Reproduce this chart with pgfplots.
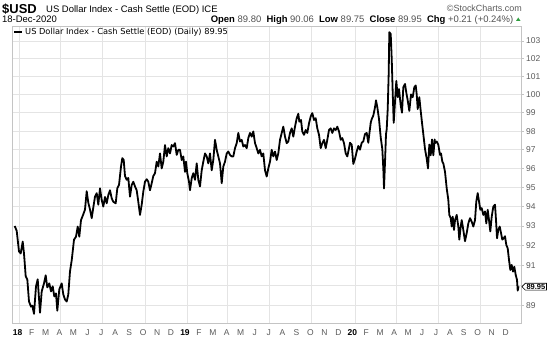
\documentclass[border=0pt]{standalone}
\usepackage{pgfplots}
\pgfplotsset{compat=1.18}
\usepackage{fontspec}
\setmainfont{Liberation Sans}
\newfontfamily\verd{DejaVu Sans}
\usetikzlibrary{shapes.symbols}
\definecolor{gridc}{HTML}{E4E4E4}
\definecolor{framec}{HTML}{C4C4C4}
\definecolor{tickc}{HTML}{5A5A5A}
\definecolor{valc}{HTML}{505050}
\definecolor{upgreen}{HTML}{2E9E3E}
\begin{document}
\begin{tikzpicture}[x=1bp,y=1bp]
\path[use as bounding box] (0,0) rectangle (560,338);
\begin{axis}[
  at={(12bp,14.4bp)}, anchor=south west,
  width=509.5bp, height=297.6bp, scale only axis,
  xmin=12, xmax=521.5,
  ymode=log, ymin=88.126, ymax=103.86,
  axis line style={framec, line width=0.6bp},
  xtick={17.7,31.64,45.58,59.52,73.46,87.4,101.34,115.28,129.22,143.16,157.1,171.04,
         184.98,198.92,212.86,226.8,240.74,254.68,268.62,282.56,296.5,310.44,324.38,338.32,
         352.26,366.2,380.14,394.08,408.02,421.96,435.9,449.84,463.78,477.72,491.66,505.6},
  xticklabels={{\color{black}\bfseries 18},F,M,A,M,J,J,A,S,O,N,D,
               {\color{black}\bfseries 19},F,M,A,M,J,J,A,S,O,N,D,
               {\color{black}\bfseries 20},F,M,A,M,J,J,A,S,O,N,D},
  major x tick style={draw=none},
  minor xtick={19.3,60,102.7,145,187.5,227.5,269.5,311.7,355,396.5,438,480.5},
  xminorgrids, minor x grid style={gridc, line width=0.6bp},
  minor x tick style={draw=none},
  xticklabel style={font=\fontsize{8.5}{9}\selectfont, text=tickc, anchor=base, yshift=-9.7bp, inner sep=0pt},
  ytick={89,90,91,92,93,94,95,96,97,98,99,100,101,102,103},
  yticklabels={89,,91,92,93,94,95,96,97,98,99,100,101,102,103},
  ymajorgrids, major y grid style={gridc, line width=0.6bp},
  ytick pos=right, yticklabel pos=right,
  tick align=outside, major tick length=2bp,
  major y tick style={framec, line width=0.5bp},
  yticklabel style={font=\fontsize{8.5}{9}\selectfont, text=tickc, anchor=west, inner sep=0pt, xshift=2.5bp},
  clip=true,
]
\addplot[black, line width=1.8bp, line join=round] coordinates {
(14.7,93.0)(16.7,92.75)(19,91.7)(20.7,91.6)(22.7,92.2)(24,91.6)(25.7,90.45)(27.3,90.3)
(29,89.2)(31,88.95)(32.3,89.0)(34,88.6)(36,89.95)(37.7,90.3)(40,88.65)(41.7,89.7)
(44,90.1)(45.7,90.5)(47.3,89.9)(49.3,90.1)(51,89.7)(52.7,89.95)(54.3,89.45)(56,89.6)
(57.3,88.75)(59.3,89.8)(61.7,90.1)(63.3,89.55)(65,89.3)(66.7,89.2)(68.3,89.55)(70,90.7)
(71.7,91.25)(74,92.3)(76,92.45)(77.7,92.97)(79.3,92.45)(81,93.3)(83.3,93.6)(85,93.85)
(86.7,94.8)(88.3,94.2)(90,93.85)(91.7,93.4)(93.3,93.95)
(95,94.52)(96.7,94.7)(98.3,94.1)(100,94.95)(101.7,94.35)(103.3,94.0)(105,94.5)(106.7,94.17)
(108.3,94.6)(110,94.85)(111.7,94.43)(113.3,94.25)(115.7,94.17)(117.3,94.95)(119,95.13)
(121,96.1)(122.3,96.55)(123.7,96.45)(125,95.6)(126.7,95.4)(128.3,95.5)(130,94.52)
(131.7,95.13)(133.3,95.3)(135,95.05)(136.7,94.85)(138.3,94.25)(140,93.57)(141.7,94.1)
(143.3,94.78)(145,95.3)(146.7,95.43)(148.3,95.3)(150,94.85)(151.7,95.22)(153.3,95.6)
(155,95.75)(156.7,96.36)(158.3,96.1)(160,96.8)(161.7,96.0)(163.3,96.36)(165,97.25)
(166.7,96.64)(168.3,97.08)(170,96.8)(171.7,97.25)(173.3,97.17)(175,97.35)(176.7,96.72)
(178.3,96.99)
(180,96.99)(181.7,96.45)(183.3,96.64)(185,95.82)(186,96.36)(187.3,95.75)(189,95.3)
(190,94.85)(191.7,95.48)(193.3,95.75)(195,95.4)(196.7,96.27)(198.3,95.4)(200,95.05)
(201.7,95.9)(203.3,96.36)(205,96.8)(206.7,96.64)(208.3,96.27)(210,96.8)(211.7,95.9)
(213.3,96.45)(215,97.53)(216.7,96.99)(218.3,96.64)(220,96.27)(221.7,95.22)(223.3,96.1)
(225,96.36)(226.7,96.8)(228.3,96.9)(230,96.72)(231.7,96.64)(233.3,96.64)(235,97.08)
(236.7,97.35)(238.3,97.9)(240,97.44)(241.7,97.53)(243.3,97.17)(245,97.25)(246.7,97.08)
(248.3,97.62)(250,97.9)(251.7,97.7)(253.3,97.98)(255,97.35)(256.7,97.08)(258.3,96.8)
(260,96.99)(261.7,96.64)(263.3,96.8)
(265,95.9)(266.7,95.57)(268.3,96.0)(270,96.36)(271.7,96.99)(273.3,96.64)(275,96.9)
(276.7,96.45)(278.3,96.8)(280,97.53)(281.7,97.9)(283.3,98.24)(285,97.7)(286.7,97.35)
(288.3,97.44)(290,97.9)(291.7,98.15)(293.3,97.7)(295,98.24)(296.7,98.7)(298.3,98.94)
(299.3,98.51)(301,98.6)(302.3,97.98)(304,97.8)(305.7,98.06)(307.3,97.9)(309,98.42)
(310.7,98.8)(312.3,98.98)(314,98.6)(315.7,98.7)(317.3,98.15)(319,97.8)(320.7,97.08)
(322.3,97.35)(324,97.53)(325.7,97.08)(327.3,97.53)(329,98.06)(330.7,98.15)(332.3,97.9)
(334,98.15)(335.7,98.06)(337.3,98.24)(339,97.98)(340.7,97.53)(342.3,97.62)(344,97.35)
(345.7,96.8)(347.3,96.64)(349,97.08)
(350,97.37)(351.7,97.27)(353.3,96.24)(355,96.52)(356.7,96.9)(358.3,97.2)(360,97.0)
(361.7,97.37)(363.3,97.45)(365,97.84)(366.7,97.9)(368.3,97.37)(369.3,97.84)(370.7,98.45)
(371.7,98.65)(373.3,98.85)(375,99.3)(376,99.68)(377.3,99.3)(379,98.65)(380.7,97.66)
(382.3,97.03)(383.3,96.0)(384,94.95)(385,96.33)(386,97.84)(386.7,98.1)(387.7,99.2)
(388.7,101.2)(389.3,103.5)(390.7,103.4)(391.7,102.0)(392.7,100.1)(393.7,98.45)(395,99.6)
(396.3,100.75)(397.7,99.85)(399,100.3)(400.7,99.4)(402,99.0)(403.3,100.4)(405,100.58)
(406.3,100.1)(407.7,99.68)(409.3,99.1)(411,100.0)(412.7,99.85)(414.3,100.4)(415.7,100.5)
(416.7,100.0)(417.7,99.2)(419.3,99.85)(420.7,99.1)(422,98.45)(423.3,97.84)(425,97.03)
(426.7,96.52)(428,96.0)(429.3,97.27)(430.7,96.7)(432,97.55)(433.3,96.7)(434.7,97.55)
(435,97.35)(436.7,97.44)(438.3,97.26)(440,96.72)(441,96.8)(442.3,96.36)(443.3,96.27)
(445,95.82)(446.7,94.95)(448.3,94.35)(449.3,93.57)(450.7,93.4)(451.7,92.97)(452.7,93.48)
(454,92.8)(455,93.3)(456.7,93.57)(458.3,92.97)(459.3,92.3)(460.7,92.97)(461.7,93.3)
(463.3,92.8)(465,92.22)(466.7,92.64)(468.3,93.13)(470,93.4)(471.7,93.22)(473.3,92.97)
(475,93.3)(476.3,94.27)(477.7,94.7)(479,94.27)(480.3,93.83)(481.7,93.92)(483.3,93.57)
(485,93.75)(486.3,93.13)(487.7,93.83)(489,93.3)(490.3,92.72)(491.7,93.48)(493.3,94.0)
(495,94.1)(496,93.3)(497,92.37)(498.3,92.8)(499.7,92.97)(501,92.64)(502.3,92.3)
(503.7,92.37)(505,92.47)(506.3,92.03)(507.7,91.86)(509,91.27)(510.3,90.77)(511.7,91.02)
(513,90.69)(514.3,90.93)(515.7,90.52)(517,90.27)(517.7,89.74)(518.5,89.95)
};
\end{axis}
% header
\node[anchor=base west, inner sep=0pt, font=\fontsize{13}{13}\selectfont\bfseries] at (2,325) {\$USD};
\node[anchor=base west, inner sep=0pt, font=\fontsize{9.5}{10}\selectfont] at (46,325.5) {US Dollar Index - Cash Settle (EOD) ICE};
\node[anchor=base east, inner sep=0pt, font=\fontsize{9}{9}\selectfont, text=tickc] at (522,327) {\textcopyright StockCharts.com};
\node[anchor=base west, inner sep=0pt, font=\fontsize{9.5}{10}\selectfont] at (2,315.5) {18-Dec-2020};
\node[anchor=base east, inner sep=0pt, font=\fontsize{9.5}{10}\selectfont] at (513.5,315.5)
  {\textbf{Open} \textcolor{valc}{89.80}\ \ \textbf{High} \textcolor{valc}{90.06}\ \ \textbf{Low} \textcolor{valc}{89.75}\ \ \textbf{Close} \textcolor{valc}{89.95}\ \ \textbf{Chg} \textcolor{valc}{+0.21 (+0.24\%)}};
\fill[upgreen] (516,317) -- (520.5,317) -- (518.25,320.5) -- cycle;
% legend
\draw[black, line width=1.6bp] (14,306.3) -- (22,306.3);
\node[anchor=base west, inner sep=0pt, font=\verd\fontsize{8.3}{9}\selectfont] at (25,303.2) {US Dollar Index - Cash Settle (EOD) (Daily) 89.95};
% last value marker
\node[signal, signal to=west, draw=black, line width=0.6bp, fill=white, inner xsep=1.2bp, inner ysep=0.8bp,
      font=\fontsize{7.5}{8}\selectfont\bfseries, anchor=west] at (521.5,51.3) {89.95};
\end{tikzpicture}
\end{document}
